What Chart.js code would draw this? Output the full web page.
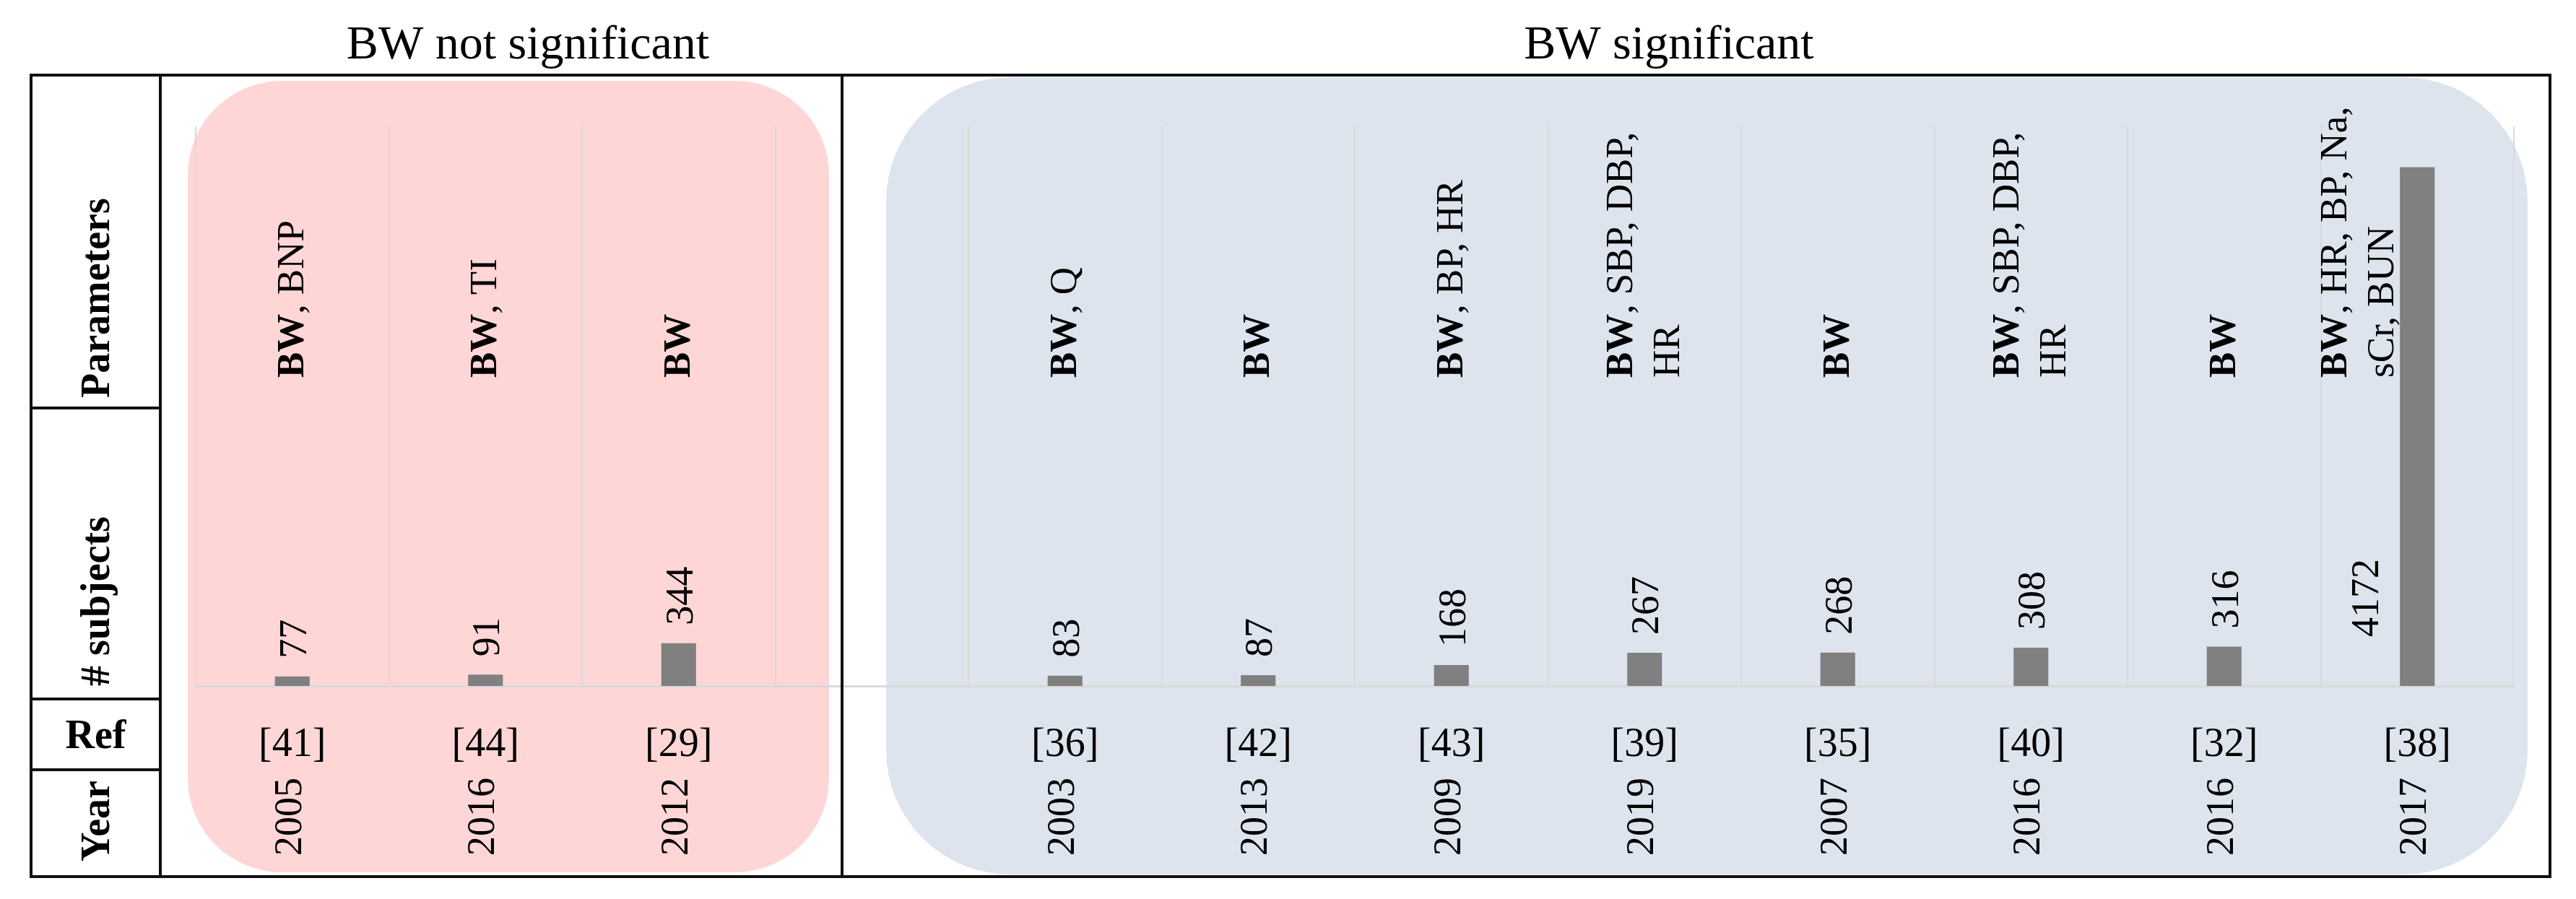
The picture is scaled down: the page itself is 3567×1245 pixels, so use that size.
<!DOCTYPE html>
<html>
<head>
<meta charset="utf-8">
<script src="https://cdn.jsdelivr.net/npm/chart.js@4"></script>
<style>
  html, body { margin: 0; padding: 0; background: #fff; }
  #wrap { width: 3567px; height: 1245px; }
</style>
</head>
<body>
<div id="wrap"><canvas id="studies" width="3567" height="1245"></canvas></div>
<script>
// Data
var refs = ['[41]', '[44]', '[29]', '', '[36]', '[42]', '[43]', '[39]', '[35]', '[40]', '[32]', '[38]'];
var years = ['2005', '2016', '2012', '', '2003', '2013', '2009', '2019', '2007', '2016', '2016', '2017'];
var subjects = [77, 91, 344, null, 83, 87, 168, 267, 268, 308, 316, 4172];
var params = [
    ['BW, BNP'], ['BW, TI'], ['BW'], [],
    ['BW, Q'], ['BW'], ['BW, BP, HR'], ['BW, SBP, DBP,', 'HR'],
    ['BW'], ['BW, SBP, DBP,', 'HR'], ['BW'], ['BW, HR, BP, Na,', 'sCr, BUN']
];
var groupTitles = ['BW not significant', 'BW significant'];
var rowTitles = ['Parameters', '# subjects', 'Ref', 'Year'];
var yRange = [0, 4500];

// Layout / style
var FONT = '"Liberation Serif", "Times New Roman", serif';
var table = { left: 43, labelCol: 222, mid: 1166, right: 3531, rows: [104, 565, 968, 1066, 1214] };
var boxes = [
    { x: 260, y: 112, w: 888, h: 1096, r: 130, color: '#ffd6d6' },
    { x: 1227, y: 107, w: 2273, h: 1104, r: 172, color: '#dde4ee' }
];
var titleX = [731, 2311];
var paramNudge = { 11: -81 }; // last column text sits left of its bar

// rotated text, (x, y) = baseline x, start y (reads bottom -> top)
function vtext(ctx, str, x, y, font, align) {
    ctx.save();
    ctx.translate(x, y);
    ctx.rotate(-Math.PI / 2);
    ctx.font = font;
    ctx.textAlign = align || 'left';
    ctx.textBaseline = 'alphabetic';
    ctx.fillText(str, 0, 0);
    ctx.restore();
}

function paramLine(ctx, line, x, y) {
    ctx.save();
    ctx.translate(x, y);
    ctx.rotate(-Math.PI / 2);
    ctx.textAlign = 'left';
    ctx.textBaseline = 'alphabetic';
    var dx = 0;
    if (line.indexOf('BW') === 0) {
        ctx.font = 'bold 53px ' + FONT;
        ctx.fillText('BW', 0, 0);
        dx = ctx.measureText('BW').width;
        line = line.slice(2);
    }
    ctx.font = '53px ' + FONT;
    ctx.fillText(line, dx, 0);
    ctx.restore();
}

var decorations = {
    id: 'decorations',
    beforeDraw: function (chart) {
        var ctx = chart.ctx;
        ctx.save();
        ctx.fillStyle = '#fff';
        ctx.fillRect(0, 0, chart.width, chart.height);
        boxes.forEach(function (b) {
            ctx.fillStyle = b.color;
            ctx.beginPath();
            ctx.roundRect(b.x, b.y, b.w, b.h, b.r);
            ctx.fill();
        });
        ctx.restore();
    },
    afterDraw: function (chart) {
        var ctx = chart.ctx;
        var xs = chart.scales.x;
        var bars = chart.getDatasetMeta(0).data;
        var rows = table.rows;
        ctx.save();

        // table lines
        ctx.strokeStyle = '#111';
        ctx.lineWidth = 4;
        ctx.strokeRect(table.left, rows[0], table.right - table.left, rows[4] - rows[0]);
        ctx.beginPath();
        ctx.moveTo(table.labelCol, rows[0]); ctx.lineTo(table.labelCol, rows[4]);
        ctx.moveTo(table.mid, rows[0]); ctx.lineTo(table.mid, rows[4]);
        for (var r = 1; r < 4; r++) {
            ctx.moveTo(table.left, rows[r]); ctx.lineTo(table.labelCol, rows[r]);
        }
        ctx.stroke();

        ctx.fillStyle = '#000';

        // group titles
        ctx.font = '66px ' + FONT;
        ctx.textAlign = 'center';
        ctx.textBaseline = 'alphabetic';
        groupTitles.forEach(function (t, i) { ctx.fillText(t, titleX[i], 81); });

        // row titles
        var colC = (table.left + table.labelCol) / 2;
        var bold = 'bold 56px ' + FONT;
        vtext(ctx, rowTitles[0], colC + 18, rows[1] - 14, bold);
        vtext(ctx, rowTitles[1], colC + 18, rows[2] - 18, bold);
        ctx.font = bold;
        ctx.textAlign = 'center';
        ctx.fillText(rowTitles[2], colC, 1036);
        vtext(ctx, rowTitles[3], colC + 18, rows[4] - 21, bold);

        // per-column texts
        for (var i = 0; i < subjects.length; i++) {
            var cx = xs.getPixelForValue(i);
            var lines = params[i];
            var n = lines.length;
            lines.forEach(function (line, k) {
                paramLine(ctx, line, cx + 15 + (k - (n - 1) / 2) * 65 + (paramNudge[i] || 0), 523);
            });

            if (subjects[i] != null) {
                var bar = bars[i];
                var f = '54px ' + FONT;
                ctx.font = f;
                var len = ctx.measureText(String(subjects[i])).width;
                if (bar.y - 25 - len < 545) {
                    vtext(ctx, String(subjects[i]), bar.x - 54, bar.base - 68, f);
                } else {
                    vtext(ctx, String(subjects[i]), bar.x + 19, bar.y - 25, f);
                }
            }

            ctx.font = '56px ' + FONT;
            ctx.textAlign = 'center';
            ctx.textBaseline = 'alphabetic';
            ctx.fillText(refs[i], cx, 1047);

            vtext(ctx, years[i], cx + 12, 1131, '54px ' + FONT, 'center');
        }
        ctx.restore();
    }
};

var studiesChart = new Chart(document.getElementById('studies'), {
    type: 'bar',
    data: {
        labels: refs,
        datasets: [{
            label: '# subjects',
            data: subjects,
            backgroundColor: '#808080',
            categoryPercentage: 1,
            barPercentage: 0.18
        }]
    },
    options: {
        responsive: false,
        animation: false,
        layout: { padding: { left: 271, right: 86, top: 175, bottom: 295 } },
        plugins: {
            legend: { display: false },
            tooltip: { enabled: false }
        },
        scales: {
            x: {
                offset: true,
                grid: { offset: true, color: '#d9d9d9', lineWidth: 2, drawTicks: false },
                border: { color: '#d9d9d9', width: 3 },
                ticks: { display: false }
            },
            y: { display: false, min: yRange[0], max: yRange[1] }
        }
    },
    plugins: [decorations]
});
</script>
</body>
</html>
